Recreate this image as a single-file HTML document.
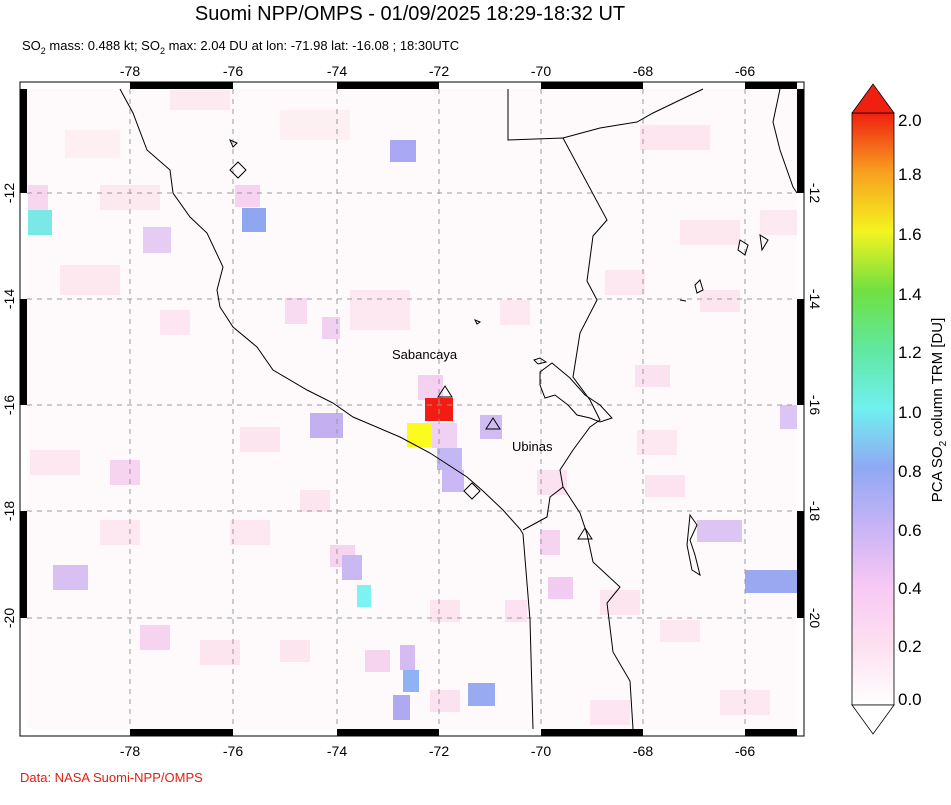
<!DOCTYPE html>
<html><head><meta charset="utf-8"><style>
body{margin:0;background:#fff;width:951px;height:800px;overflow:hidden;font-family:"Liberation Sans",sans-serif}
</style></head><body>
<svg width="951" height="800" xmlns="http://www.w3.org/2000/svg" font-family="Liberation Sans, sans-serif">
<text x="410" y="20" font-size="20" text-anchor="middle">Suomi NPP/OMPS - 01/09/2025 18:29-18:32 UT</text>
<text x="22" y="50" font-size="13">SO<tspan font-size="9" dy="4">2</tspan><tspan dy="-4"> mass: 0.488 kt; SO</tspan><tspan font-size="9" dy="4">2</tspan><tspan dy="-4"> max: 2.04 DU at lon: -71.98 lat: -16.08 ; 18:30UTC</tspan></text>
<g>
<rect x="27" y="89" width="770" height="640" fill="#fefafb"/>
<g opacity="0.9">
<rect x="100" y="185" width="60" height="25" fill="#fce8ee"/>
<rect x="170" y="90" width="60" height="20" fill="#fde8ef"/>
<rect x="65" y="130" width="55" height="28" fill="#fdeef2"/>
<rect x="280" y="110" width="70" height="30" fill="#fdeef2"/>
<rect x="28" y="185" width="20" height="25" fill="#f8d3ef"/>
<rect x="235" y="185" width="25" height="22" fill="#f6cdef"/>
<rect x="143" y="227" width="28" height="26" fill="#e4c8f2"/>
<rect x="60" y="265" width="60" height="30" fill="#fde6ee"/>
<rect x="285" y="298" width="22" height="26" fill="#f9d8f0"/>
<rect x="160" y="310" width="30" height="25" fill="#fde3ef"/>
<rect x="322" y="317" width="18" height="22" fill="#f0ccef"/>
<rect x="418" y="375" width="25" height="25" fill="#f3ccef"/>
<rect x="350" y="290" width="60" height="40" fill="#fde5ef"/>
<rect x="500" y="300" width="30" height="25" fill="#fde6ef"/>
<rect x="605" y="270" width="40" height="25" fill="#fde5ef"/>
<rect x="700" y="290" width="40" height="22" fill="#fde3ef"/>
<rect x="640" y="125" width="70" height="25" fill="#fde4ef"/>
<rect x="680" y="220" width="60" height="25" fill="#fde7ef"/>
<rect x="760" y="210" width="37" height="25" fill="#fde7ef"/>
<rect x="635" y="365" width="35" height="22" fill="#fbe0ef"/>
<rect x="637" y="430" width="40" height="25" fill="#fde6ef"/>
<rect x="645" y="475" width="40" height="22" fill="#fde0ef"/>
<rect x="240" y="427" width="40" height="25" fill="#fde3ef"/>
<rect x="110" y="460" width="30" height="25" fill="#f6d0ef"/>
<rect x="30" y="450" width="50" height="25" fill="#fde5ef"/>
<rect x="100" y="520" width="40" height="25" fill="#fde6ef"/>
<rect x="230" y="520" width="40" height="25" fill="#fde6ef"/>
<rect x="300" y="490" width="30" height="22" fill="#fde3ef"/>
<rect x="540" y="530" width="20" height="25" fill="#f6d0ef"/>
<rect x="548" y="577" width="25" height="22" fill="#f0c6ef"/>
<rect x="600" y="590" width="40" height="25" fill="#fde3ef"/>
<rect x="660" y="620" width="40" height="22" fill="#fde6ef"/>
<rect x="720" y="690" width="50" height="25" fill="#fde6ef"/>
<rect x="140" y="625" width="30" height="25" fill="#f6d0ef"/>
<rect x="200" y="640" width="40" height="25" fill="#fde3ef"/>
<rect x="280" y="640" width="30" height="22" fill="#fde3ef"/>
<rect x="365" y="650" width="25" height="22" fill="#f6d0ef"/>
<rect x="430" y="600" width="30" height="22" fill="#fde3ef"/>
<rect x="330" y="545" width="25" height="22" fill="#f6d0ef"/>
<rect x="590" y="700" width="40" height="25" fill="#fde3ef"/>
<rect x="430" y="690" width="30" height="22" fill="#fbe0ef"/>
<rect x="505" y="600" width="22" height="22" fill="#fce0ef"/>
<rect x="537" y="470" width="30" height="25" fill="#fce0ef"/>
</g>
<rect x="28" y="210" width="24" height="25" fill="#79e8e6"/>
<rect x="242" y="208" width="24" height="24" fill="#8fa7f0"/>
<rect x="390" y="140" width="26" height="22" fill="#a8a8f4"/>
<rect x="425" y="398" width="28" height="23" fill="#f21c14"/>
<rect x="407" y="423" width="25" height="24" fill="#fbfb20"/>
<rect x="432" y="423" width="25" height="25" fill="#f0d0f4"/>
<rect x="437" y="448" width="25" height="22" fill="#c4b8f4"/>
<rect x="442" y="470" width="22" height="22" fill="#c9b8f4"/>
<rect x="480" y="415" width="22" height="24" fill="#d0bcf2"/>
<rect x="310" y="413" width="33" height="25" fill="#c4b0f0"/>
<rect x="780" y="405" width="17" height="24" fill="#dcc4f4"/>
<rect x="697" y="520" width="45" height="22" fill="#dcc4f4"/>
<rect x="745" y="570" width="52" height="23" fill="#9aa8f2"/>
<rect x="357" y="585" width="14" height="22" fill="#7ef2f2"/>
<rect x="342" y="555" width="20" height="25" fill="#cab8f2"/>
<rect x="53" y="565" width="35" height="25" fill="#d8c0f2"/>
<rect x="400" y="645" width="15" height="25" fill="#d4bcf2"/>
<rect x="403" y="670" width="16" height="22" fill="#8fb2f2"/>
<rect x="393" y="695" width="17" height="25" fill="#b0a8f0"/>
<rect x="468" y="683" width="27" height="23" fill="#98aaf2"/>
<g stroke="#999" stroke-width="1" stroke-dasharray="5,5" fill="none">
<path d="M130 89V729M233 89V729M337 89V729M439 89V729M541 89V729M643 89V729M745 89V729"/>
<path d="M27 193H797M27 299H797M27 405H797M27 511H797M27 618H797"/>
</g>
<g stroke="#000" stroke-width="1" fill="none">
<path d="M120 89L133 113L147 150L170 170L173 193L190 217L207 233L223 267L217 290L220 307L233 327L257 347L273 370L307 390L333 403L353 417L400 437L430 453L467 477L483 491L503 510L520 529L523 534L530 620L533 729"/>
<path d="M508 89L508 140L563 138L607 220L593 236L587 281L597 300L580 333L573 377L590 400L600 420L590 427L573 450L560 470L563 487L550 497L547 517L523 530"/>
<path d="M563 487L580 513L587 534L593 562L620 587L607 603L613 652L630 681L633 729"/>
<path d="M563 138L600 128L637 122L653 113L703 89"/>
<path d="M780 89L773 122L780 150L793 187L797 193"/>
<path d="M540 372L552 363L570 378L585 395L600 405L612 418L600 422L590 418L577 415L568 405L555 395L545 398L540 385Z"/>
<path d="M534 360L540 358L546 362L538 364Z"/>
<path d="M690 515L697 525L690 540L695 555L700 575L692 570L687 545Z"/>
<path d="M740 240L748 245L745 255L738 250ZM760 235L768 240L762 250Z"/>
<path d="M695 285L700 280L703 290L697 293ZM680 300L686 301"/>
<path d="M475 320L480 322L477 324Z"/>
<path d="M230 140L237 143L233 147Z"/>
<path d="M238 162L246 170L238 178L230 170Z"/>
<path d="M472 483L480 491L472 499L464 491Z"/>
<path d="M445 386L452 397L438 397Z"/>
<path d="M493 418L500 429L486 429Z"/>
<path d="M585 528L592 539L578 539Z"/>
</g>
<text x="392" y="359" font-size="13">Sabancaya</text>
<text x="512" y="451" font-size="13">Ubinas</text>
</g>
<g fill="#000">
<rect x="20" y="82" width="784" height="654" fill="none" stroke="#000" stroke-width="1"/>
<rect x="130" y="82" width="103" height="7"/><rect x="337" y="82" width="102" height="7"/><rect x="541" y="82" width="102" height="7"/><rect x="745" y="82" width="52" height="7"/>
<rect x="130" y="729" width="103" height="7"/><rect x="337" y="729" width="102" height="7"/><rect x="541" y="729" width="102" height="7"/><rect x="745" y="729" width="52" height="7"/>
<rect x="20" y="89" width="7" height="104"/><rect x="20" y="299" width="7" height="106"/><rect x="20" y="511" width="7" height="107"/>
<rect x="797" y="89" width="7" height="104"/><rect x="797" y="299" width="7" height="106"/><rect x="797" y="511" width="7" height="107"/>
</g>
<g font-size="14" text-anchor="middle">
<text x="130" y="76">-78</text><text x="233" y="76">-76</text><text x="337" y="76">-74</text><text x="439" y="76">-72</text><text x="541" y="76">-70</text><text x="643" y="76">-68</text><text x="745" y="76">-66</text>
<text x="130" y="756">-78</text><text x="233" y="756">-76</text><text x="337" y="756">-74</text><text x="439" y="756">-72</text><text x="541" y="756">-70</text><text x="643" y="756">-68</text><text x="745" y="756">-66</text>
<text transform="translate(14,193) rotate(-90)">-12</text><text transform="translate(14,299) rotate(-90)">-14</text><text transform="translate(14,405) rotate(-90)">-16</text><text transform="translate(14,511) rotate(-90)">-18</text><text transform="translate(14,618) rotate(-90)">-20</text>
<text transform="translate(810,193) rotate(90)">-12</text><text transform="translate(810,299) rotate(90)">-14</text><text transform="translate(810,405) rotate(90)">-16</text><text transform="translate(810,511) rotate(90)">-18</text><text transform="translate(810,618) rotate(90)">-20</text>
</g>
<defs><linearGradient id="cb" x1="0" y1="1" x2="0" y2="0">
<stop offset="0" stop-color="#ffffff"/><stop offset="0.1" stop-color="#fde0f0"/><stop offset="0.2" stop-color="#f8c8f4"/><stop offset="0.3" stop-color="#c8b4f6"/><stop offset="0.4" stop-color="#90a8f4"/><stop offset="0.5" stop-color="#70f0f0"/><stop offset="0.6" stop-color="#60e8a0"/><stop offset="0.7" stop-color="#70e040"/><stop offset="0.8" stop-color="#f4f420"/><stop offset="0.9" stop-color="#f8a020"/><stop offset="1" stop-color="#f02010"/>
</linearGradient></defs>
<rect x="852" y="113" width="42" height="592" fill="url(#cb)" stroke="#000" stroke-width="0.8"/>
<path d="M852 113L873 84L894 113Z" fill="#f02010" stroke="#000" stroke-width="0.8"/>
<path d="M852 705L873 734L894 705Z" fill="#fff" stroke="#000" stroke-width="0.8"/>
<g font-size="17">
<text x="898" y="126">2.0</text><text x="898" y="180">1.8</text><text x="898" y="240">1.6</text><text x="898" y="300">1.4</text><text x="898" y="358">1.2</text><text x="898" y="418">1.0</text><text x="898" y="477">0.8</text><text x="898" y="536">0.6</text><text x="898" y="594">0.4</text><text x="898" y="652">0.2</text><text x="898" y="705">0.0</text>
</g>
<text transform="translate(942,410) rotate(-90)" font-size="15" text-anchor="middle">PCA SO<tspan font-size="10" dy="4">2</tspan><tspan dy="-4"> column TRM [DU]</tspan></text>
<text x="20" y="782" font-size="13" fill="#e02010">Data: NASA Suomi-NPP/OMPS</text>
</svg>
</body></html>
